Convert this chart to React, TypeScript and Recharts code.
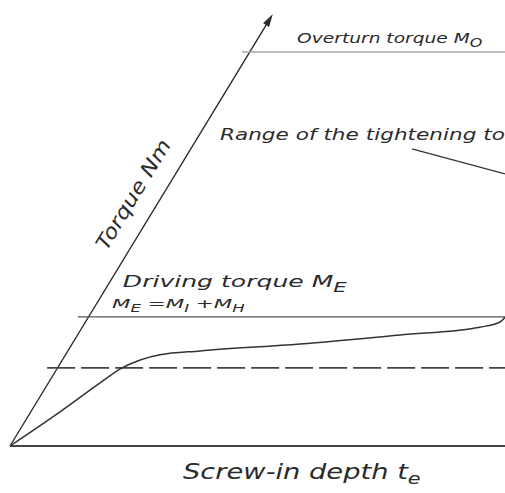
import { LineChart, Line, XAxis, YAxis, ReferenceLine, ReferenceDot } from "recharts";

// screw-in depth (x) vs torque (y), arbitrary units 0..100
const depth = [0, 10.1, 18.2, 22.2, 26.3, 30.3, 38.4, 58.6, 78.8, 94.9, 99, 100];
const torque = [0, 7.9, 14.6, 17.8, 19.9, 21.1, 22.0, 23.6, 25.7, 27.5, 28.7, 29.8];

const overturnTorque = 91.2;
const drivingTorque = 29.9;
const thresholdTorque = 18.1;

// where the horizontal reference lines start (just left of the slanted axis)
const overturnStart = 46.9;
const drivingStart = 13.7;
const thresholdStart = 7.5;

// slanted torque axis and the pointer to the tightening range
const axisTop = { x: 53.1, y: 100 };
const pointerFrom = { x: 81.2, y: 68.8 };
const pointerTo = { x: 100, y: 63.0 };

const data = depth.map((d, i) => ({ depth: d, torque: torque[i] }));

const ink = "#2b2b2b";
const font = "'DejaVu Sans', sans-serif";

function ArrowLine(p: any) {
  const { x1, y1, x2, y2 } = p;
  const ang = Math.atan2(y2 - y1, x2 - x1);
  const len = 13;
  const w = 3.5;
  const bx = x2 - len * Math.cos(ang);
  const by = y2 - len * Math.sin(ang);
  const nx = -Math.sin(ang) * w;
  const ny = Math.cos(ang) * w;
  return (
    <g>
      <line x1={x1} y1={y1} x2={bx} y2={by} stroke={ink} strokeWidth={1.4} />
      <polygon
        points={`${x2},${y2} ${bx + nx},${by + ny} ${bx - nx},${by - ny}`}
        fill={ink}
      />
    </g>
  );
}

function Caption(props: any) {
  const { cx, cy, sx = 1, size, rotate = 0, anchor = "start", children } = props;
  return (
    <g transform={`translate(${cx},${cy}) rotate(${rotate}) scale(${sx},1)`}>
      <text
        x={0}
        y={0}
        fontSize={size}
        fontStyle="italic"
        fontFamily={font}
        fill={ink}
        textAnchor={anchor}
      >
        {children}
      </text>
    </g>
  );
}

function DepthLabel(props: any) {
  const vb = props.viewBox;
  return (
    <Caption cx={vb.x + 173} cy={vb.y + 33} sx={1.3} size={21}>
      Screw-in depth t
      <tspan dy={5} fontSize={16}>e</tspan>
    </Caption>
  );
}

export default function App() {
  return (
    <div style={{ position: "absolute", left: 0, top: 0, background: "#fff" }}>
      <LineChart
        width={505}
        height={493}
        data={data}
        margin={{ top: 14, right: 0, bottom: 0, left: 10 }}
      >
        <XAxis
          dataKey="depth"
          type="number"
          domain={[0, 100]}
          tick={false}
          tickLine={false}
          height={47}
          axisLine={{ stroke: "#444", strokeWidth: 2 }}
          label={<DepthLabel />}
        />
        <YAxis type="number" domain={[0, 100]} hide />

        <ReferenceLine
          segment={[{ x: 0, y: 0 }, axisTop]}
          shape={ArrowLine}
        />
        <ReferenceLine
          segment={[{ x: overturnStart, y: overturnTorque }, { x: 100, y: overturnTorque }]}
          stroke="#a8a8a8"
          strokeWidth={1.6}
        />
        <ReferenceLine
          segment={[{ x: drivingStart, y: drivingTorque }, { x: 100, y: drivingTorque }]}
          stroke="#555"
          strokeWidth={1.3}
        />
        <ReferenceLine
          segment={[{ x: thresholdStart, y: thresholdTorque }, { x: 100, y: thresholdTorque }]}
          stroke="#444"
          strokeWidth={1.8}
          strokeDasharray="28 6"
        />
        <ReferenceLine
          segment={[pointerFrom, pointerTo]}
          stroke="#333"
          strokeWidth={1.3}
        />

        <Line
          dataKey="torque"
          type="monotone"
          stroke="#333"
          strokeWidth={1.5}
          dot={false}
          isAnimationActive={false}
        />

        <ReferenceDot
          x={58.0}
          y={93.3}
          r={0}
          shape={(p: any) => (
            <Caption cx={p.cx} cy={p.cy} sx={1.33} size={14}>
              Overturn torque M
              <tspan dy={4} fontSize={12}>O</tspan>
            </Caption>
          )}
        />
        <ReferenceDot
          x={42.4}
          y={70.8}
          r={0}
          shape={(p: any) => (
            <Caption cx={p.cx} cy={p.cy} sx={1.31} size={16.5}>
              Range of the tightening to
            </Caption>
          )}
        />
        <ReferenceDot
          x={26.1}
          y={57.4}
          r={0}
          shape={(p: any) => (
            <Caption cx={p.cx} cy={p.cy} sx={1.15} size={20} rotate={-58.7} anchor="middle">
              Torque Nm
            </Caption>
          )}
        />
        <ReferenceDot
          x={22.8}
          y={36.8}
          r={0}
          shape={(p: any) => (
            <Caption cx={p.cx} cy={p.cy} sx={1.52} size={16.5}>
              Driving torque M
              <tspan dy={5} fontSize={14}>E</tspan>
            </Caption>
          )}
        />
        <ReferenceDot
          x={20.6}
          y={31.9}
          r={0}
          shape={(p: any) => (
            <Caption cx={p.cx} cy={p.cy} sx={1.65} size={13}>
              M<tspan dy={4} fontSize={10}>E</tspan>
              <tspan dy={-4}> =M</tspan>
              <tspan dy={4} fontSize={10}>I</tspan>
              <tspan dy={-4}> +M</tspan>
              <tspan dy={4} fontSize={10}>H</tspan>
            </Caption>
          )}
        />
      </LineChart>
    </div>
  );
}
